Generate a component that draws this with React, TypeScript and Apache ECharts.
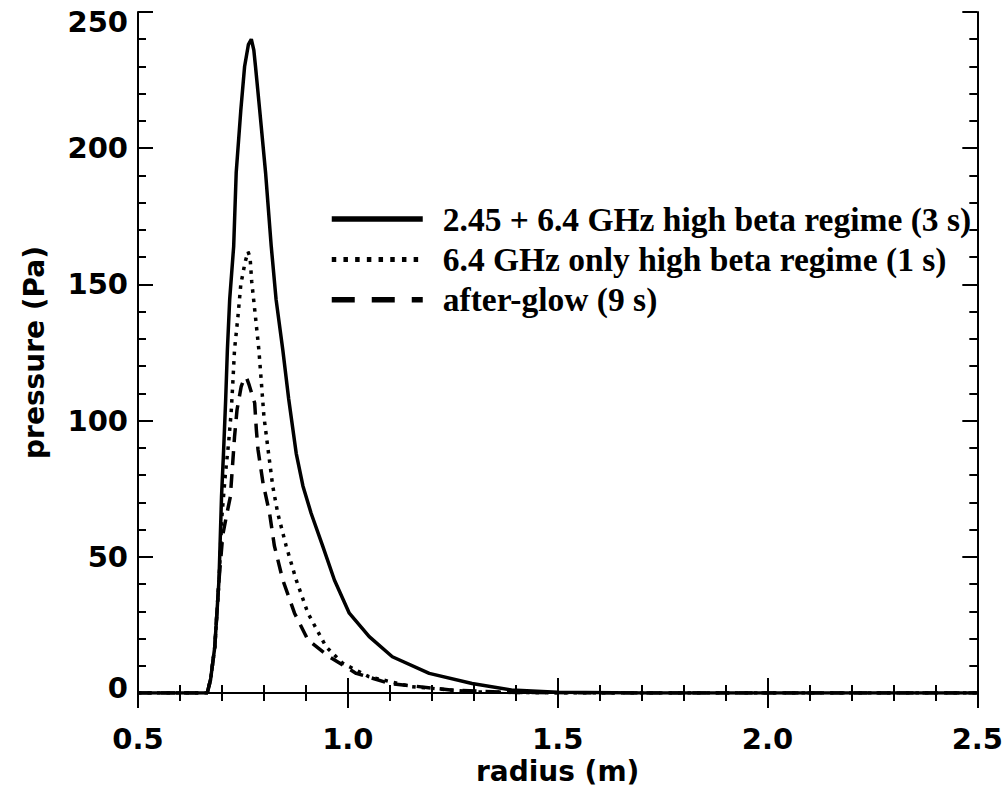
import React, { useEffect, useRef } from "react";
import * as echarts from "echarts";

const seriesNames = [
  "2.45 + 6.4 GHz high beta regime (3 s)",
  "6.4 GHz only high beta regime (1 s)",
  "after-glow (9 s)",
];

const radiusSolid = [0.5, 0.665, 0.673, 0.683, 0.693, 0.699, 0.704, 0.709, 0.713, 0.7185, 0.728, 0.734, 0.745, 0.754, 0.763, 0.77, 0.776, 0.78, 0.79, 0.804, 0.8175, 0.829, 0.845, 0.859, 0.877, 0.893, 0.9125, 0.94, 0.968, 1.0035, 1.051, 1.106, 1.194, 1.296, 1.39, 1.5, 1.7, 2.5];
const pressureSolid = [0, 0, 5, 17, 41.5, 72, 89, 108, 126, 144.5, 164, 191, 214, 230, 238, 240, 236, 230, 214, 191, 164, 144.5, 126, 108, 88, 76, 66, 54, 41.5, 29.3, 20.7, 13.3, 7.2, 3.5, 1.1, 0.3, 0, 0];

const radiusDotted = [0.5, 0.665, 0.673, 0.683, 0.693, 0.7, 0.708, 0.716, 0.722, 0.726, 0.73, 0.738, 0.745, 0.755, 0.762, 0.767, 0.771, 0.78, 0.788, 0.794, 0.8, 0.81, 0.821, 0.833, 0.853, 0.877, 0.905, 0.948, 0.987, 1.05, 1.153, 1.3, 1.5, 2.5];
const pressureDotted = [0, 0, 5, 17, 41.5, 65, 80, 92, 103, 114, 126, 138, 150, 158, 162, 160, 151, 138, 126, 114, 101.6, 89.3, 76, 66, 54, 41.5, 29.3, 17, 11, 6, 2.3, 0.4, 0, 0];

const radiusDashed = [0.5, 0.665, 0.673, 0.683, 0.693, 0.702, 0.712, 0.72, 0.725, 0.73, 0.736, 0.746, 0.752, 0.758, 0.765, 0.771, 0.778, 0.782, 0.786, 0.798, 0.8135, 0.825, 0.845, 0.873, 0.905, 0.956, 1.02, 1.1, 1.25, 1.4, 1.6, 2.5];
const pressureDashed = [0, 0, 5, 17, 41.5, 58, 66, 72, 83, 94, 104, 112.6, 115, 116, 113, 110, 106.5, 96.7, 89.3, 77, 66, 54, 41.5, 29.3, 19.5, 13.3, 7.2, 3.5, 1.0, 0.2, 0, 0];

const xTicks = [0.5, 1.0, 1.5, 2.0, 2.5];
const yTicks = [0, 50, 100, 150, 200, 250];

const zip = (xs: number[], ys: number[]) => xs.map((x, i) => [x, ys[i]]);

export default function App() {
  const ref = useRef<HTMLDivElement>(null);
  useEffect(() => {
    if (!ref.current) return;
    const chart = echarts.init(ref.current, undefined, { renderer: "svg" });
    const black = "#000";
    const tickFont = "DejaVu Sans";
    const axisCommon = {
      axisLine: { show: true, lineStyle: { color: black, width: 2 } },
      axisTick: { show: true, inside: true, length: 15, lineStyle: { color: black, width: 2 } },
      minorTick: { show: true, splitNumber: 5, length: 8, lineStyle: { color: black, width: 2 } },
      splitLine: { show: false },
    };
    const hiddenSymbol = { opacity: 0, color: "transparent", borderWidth: 0 };
    const option: any = {
      animation: false,
      backgroundColor: "#fff",
      grid: { left: 138, right: 26, top: 12, bottom: 100, containLabel: false },
      legend: {
        show: true,
        left: 324,
        top: 197,
        orient: "vertical",
        align: "left",
        itemWidth: 91,
        itemHeight: 14,
        itemGap: 6.4,
        textStyle: {
          fontFamily: "Liberation Serif",
          fontWeight: "bold",
          fontSize: 33.5,
          lineHeight: 33,
          color: black,
          padding: [0, 0, 0, 15],
        },
        data: [
          { name: seriesNames[0], itemStyle: hiddenSymbol, lineStyle: { width: 5.5, type: "solid", color: black } },
          { name: seriesNames[1], itemStyle: hiddenSymbol, lineStyle: { width: 5, type: [4.5, 7.2], color: black } },
          { name: seriesNames[2], itemStyle: hiddenSymbol, lineStyle: { width: 5.5, type: [23, 17], color: black } },
        ],
        selectedMode: false,
      },
      xAxis: [
        {
          ...axisCommon,
          type: "value",
          position: "bottom",
          min: xTicks[0],
          max: xTicks[xTicks.length - 1],
          interval: 0.5,
          name: "radius (m)",
          nameLocation: "middle",
          nameGap: 53,
          nameTextStyle: { fontFamily: tickFont, fontWeight: "bold", fontSize: 28, color: black },
          axisLabel: {
            show: true,
            margin: 31,
            fontFamily: tickFont,
            fontWeight: "bold",
            fontSize: 29,
            color: black,
            formatter: (v: number) => v.toFixed(1),
          },
        },
        {
          ...axisCommon,
          type: "value",
          position: "top",
          min: xTicks[0],
          max: xTicks[xTicks.length - 1],
          interval: 0.5,
          axisLabel: { show: false },
        },
      ],
      yAxis: [
        {
          ...axisCommon,
          type: "value",
          position: "left",
          min: yTicks[0],
          max: yTicks[yTicks.length - 1],
          interval: 50,
          name: "pressure (Pa)",
          nameLocation: "middle",
          nameGap: 90,
          nameTextStyle: { fontFamily: tickFont, fontWeight: "bold", fontSize: 28, color: black },
          axisLabel: {
            show: true,
            margin: 10,
            fontFamily: tickFont,
            fontWeight: "bold",
            fontSize: 29,
            color: black,
            formatter: (v: number) =>
              v === yTicks[yTicks.length - 1] ? `{top|${v}}` : v === 0 ? `{bot|${v}}` : `${v}`,
            rich: {
              top: { padding: [20, 0, 0, 0], fontFamily: tickFont, fontWeight: "bold", fontSize: 29, color: black },
              bot: { padding: [0, 0, 10, 0], fontFamily: tickFont, fontWeight: "bold", fontSize: 29, color: black },
            },
          },
        },
        {
          ...axisCommon,
          type: "value",
          position: "right",
          min: yTicks[0],
          max: yTicks[yTicks.length - 1],
          interval: 50,
          axisLabel: { show: false },
        },
      ],
      series: [
        {
          name: seriesNames[0],
          type: "line",
          data: zip(radiusSolid, pressureSolid),
          symbol: "none",
          showSymbol: false,
          lineStyle: { color: black, width: 3.5, type: "solid" },
          itemStyle: { color: black },
          z: 3,
        },
        {
          name: seriesNames[1],
          type: "line",
          data: zip(radiusDotted, pressureDotted),
          symbol: "none",
          showSymbol: false,
          lineStyle: { color: black, width: 3.5, type: [3.5, 6] },
          itemStyle: { color: black },
          z: 3,
        },
        {
          name: seriesNames[2],
          type: "line",
          data: zip(radiusDashed, pressureDashed),
          symbol: "none",
          showSymbol: false,
          lineStyle: { color: black, width: 3.5, type: [14, 9] },
          itemStyle: { color: black },
          z: 3,
        },
      ],
    };
    chart.setOption(option);
    return () => chart.dispose();
  }, []);
  return (
    <div
      ref={ref}
      style={{ position: "absolute", left: 0, top: 0, width: 1006, height: 793, background: "#fff" }}
    />
  );
}
